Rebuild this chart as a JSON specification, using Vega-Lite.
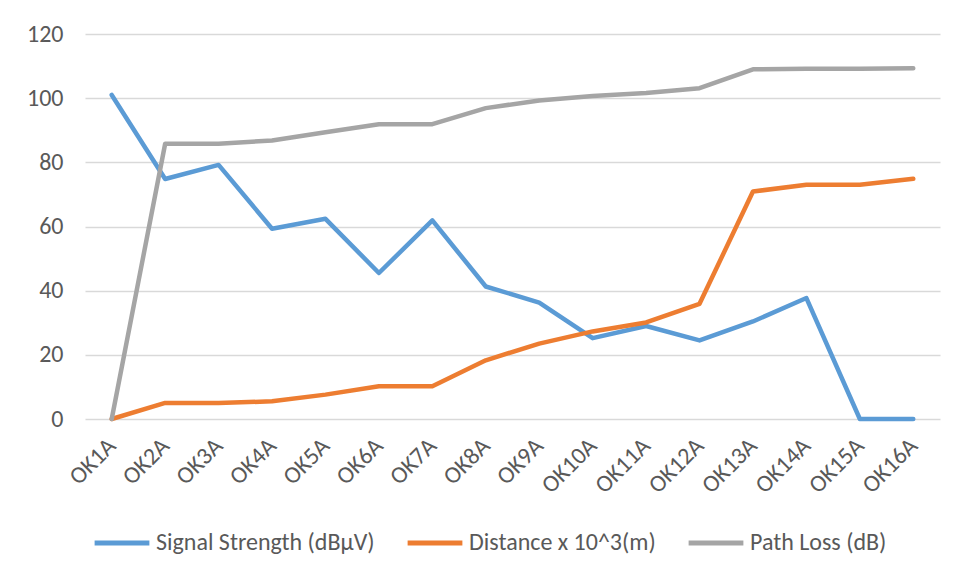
{
  "$schema": "https://vega.github.io/schema/vega-lite/v6.json",
  "width": 855,
  "height": 385,
  "autosize": {"type": "none"},
  "padding": {"left": 85, "top": 34, "right": 16, "bottom": 159},
  "background": "white",
  "config": {
    "font": "Carlito, Lato, sans-serif",
    "view": {"stroke": null}
  },
  "data": {
    "values": [
      {"site": "OK1A", "series": "Signal Strength (dBµV)", "value": 101.0},
      {"site": "OK2A", "series": "Signal Strength (dBµV)", "value": 74.8},
      {"site": "OK3A", "series": "Signal Strength (dBµV)", "value": 79.2},
      {"site": "OK4A", "series": "Signal Strength (dBµV)", "value": 59.3},
      {"site": "OK5A", "series": "Signal Strength (dBµV)", "value": 62.4},
      {"site": "OK6A", "series": "Signal Strength (dBµV)", "value": 45.5},
      {"site": "OK7A", "series": "Signal Strength (dBµV)", "value": 61.9},
      {"site": "OK8A", "series": "Signal Strength (dBµV)", "value": 41.3},
      {"site": "OK9A", "series": "Signal Strength (dBµV)", "value": 36.3},
      {"site": "OK10A", "series": "Signal Strength (dBµV)", "value": 25.2},
      {"site": "OK11A", "series": "Signal Strength (dBµV)", "value": 29.0},
      {"site": "OK12A", "series": "Signal Strength (dBµV)", "value": 24.5},
      {"site": "OK13A", "series": "Signal Strength (dBµV)", "value": 30.4},
      {"site": "OK14A", "series": "Signal Strength (dBµV)", "value": 37.7},
      {"site": "OK15A", "series": "Signal Strength (dBµV)", "value": 0},
      {"site": "OK16A", "series": "Signal Strength (dBµV)", "value": 0},
      {"site": "OK1A", "series": "Distance x 10^3(m)", "value": 0},
      {"site": "OK2A", "series": "Distance x 10^3(m)", "value": 5.0},
      {"site": "OK3A", "series": "Distance x 10^3(m)", "value": 5.0},
      {"site": "OK4A", "series": "Distance x 10^3(m)", "value": 5.5},
      {"site": "OK5A", "series": "Distance x 10^3(m)", "value": 7.6},
      {"site": "OK6A", "series": "Distance x 10^3(m)", "value": 10.2},
      {"site": "OK7A", "series": "Distance x 10^3(m)", "value": 10.2},
      {"site": "OK8A", "series": "Distance x 10^3(m)", "value": 18.3},
      {"site": "OK9A", "series": "Distance x 10^3(m)", "value": 23.5},
      {"site": "OK10A", "series": "Distance x 10^3(m)", "value": 27.3},
      {"site": "OK11A", "series": "Distance x 10^3(m)", "value": 30.1},
      {"site": "OK12A", "series": "Distance x 10^3(m)", "value": 35.9},
      {"site": "OK13A", "series": "Distance x 10^3(m)", "value": 70.9},
      {"site": "OK14A", "series": "Distance x 10^3(m)", "value": 73.0},
      {"site": "OK15A", "series": "Distance x 10^3(m)", "value": 73.0},
      {"site": "OK16A", "series": "Distance x 10^3(m)", "value": 74.9},
      {"site": "OK1A", "series": "Path Loss (dB)", "value": 0},
      {"site": "OK2A", "series": "Path Loss (dB)", "value": 85.8},
      {"site": "OK3A", "series": "Path Loss (dB)", "value": 85.8},
      {"site": "OK4A", "series": "Path Loss (dB)", "value": 86.8},
      {"site": "OK5A", "series": "Path Loss (dB)", "value": 89.4},
      {"site": "OK6A", "series": "Path Loss (dB)", "value": 91.9},
      {"site": "OK7A", "series": "Path Loss (dB)", "value": 91.9},
      {"site": "OK8A", "series": "Path Loss (dB)", "value": 96.9},
      {"site": "OK9A", "series": "Path Loss (dB)", "value": 99.3},
      {"site": "OK10A", "series": "Path Loss (dB)", "value": 100.7},
      {"site": "OK11A", "series": "Path Loss (dB)", "value": 101.6},
      {"site": "OK12A", "series": "Path Loss (dB)", "value": 103.1},
      {"site": "OK13A", "series": "Path Loss (dB)", "value": 109.0},
      {"site": "OK14A", "series": "Path Loss (dB)", "value": 109.2},
      {"site": "OK15A", "series": "Path Loss (dB)", "value": 109.2},
      {"site": "OK16A", "series": "Path Loss (dB)", "value": 109.3}
    ]
  },
  "mark": {"type": "line", "strokeWidth": 4.5, "strokeCap": "round", "strokeJoin": "round"},
  "encoding": {
    "x": {
      "field": "site",
      "type": "nominal",
      "sort": null,
      "scale": {"type": "point", "padding": 0.5},
      "axis": {
        "title": null,
        "labelAngle": -45,
        "labelAlign": "right",
        "labelBaseline": "middle",
        "labelFontSize": 24,
        "labelColor": "#595959",
        "labelPadding": 23,
        "ticks": false,
        "domain": false,
        "grid": false
      }
    },
    "y": {
      "field": "value",
      "type": "quantitative",
      "scale": {"domain": [0, 120], "nice": false},
      "axis": {
        "title": null,
        "values": [0, 20, 40, 60, 80, 100, 120],
        "labelFontSize": 24,
        "labelColor": "#595959",
        "labelPadding": 22,
        "ticks": false,
        "domain": false,
        "grid": true,
        "gridColor": "#D9D9D9",
        "gridWidth": 1.3
      }
    },
    "color": {
      "field": "series",
      "type": "nominal",
      "sort": null,
      "scale": {
        "domain": ["Signal Strength (dBµV)", "Distance x 10^3(m)", "Path Loss (dB)"],
        "range": ["#5B9BD5", "#ED7D31", "#A5A5A5"]
      },
      "legend": {
        "title": null,
        "orient": "none",
        "direction": "horizontal",
        "legendX": 7,
        "legendY": 479,
        "symbolType": "stroke",
        "symbolSize": 3000,
        "symbolStrokeWidth": 5,
        "labelFontSize": 24,
        "labelColor": "#595959",
        "labelOffset": 4,
        "columnPadding": 22,
        "labelLimit": 400
      }
    }
  }
}
